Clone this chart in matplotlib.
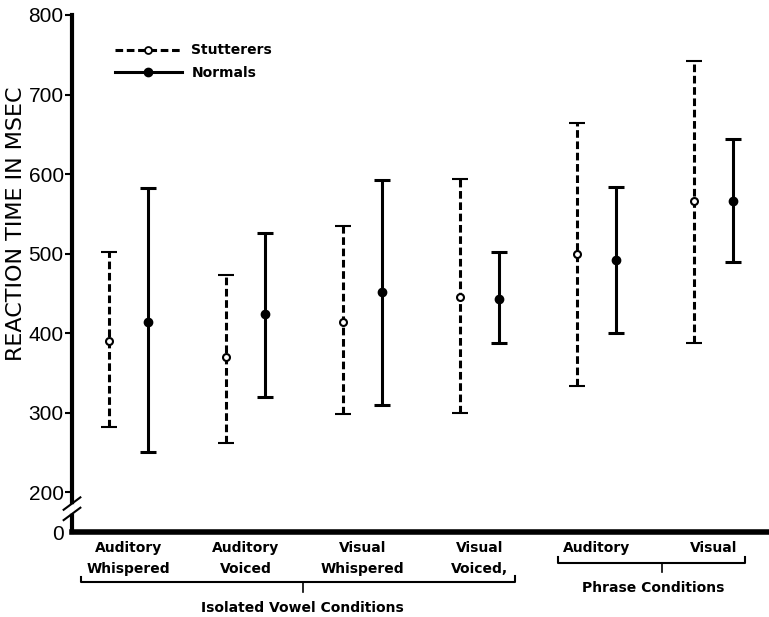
import numpy as np
import matplotlib
matplotlib.use('Agg')
import matplotlib.pyplot as plt
import matplotlib.transforms as mtransforms
from matplotlib.lines import Line2D

# Conditions along the x axis
conditions = ['Auditory\nWhispered', 'Auditory\nVoiced', 'Visual\nWhispered',
              'Visual\nVoiced,', 'Auditory', 'Visual']

# Reaction times in msec
stut_mean = [390, 370, 414, 445, 500, 566]
stut_low = [282, 262, 298, 299, 334, 387]
stut_high = [502, 473, 535, 594, 664, 742]

norm_mean = [414, 424, 452, 443, 492, 566]
norm_low = [251, 320, 310, 387, 400, 490]
norm_high = [582, 526, 593, 502, 584, 644]

stut_mean = np.array(stut_mean)
norm_mean = np.array(norm_mean)

fig = plt.figure(figsize=(7.69, 6.17), dpi=100)
ax = fig.add_axes([72/769, 1 - 532/617, 1 - 72/769, (532 - 15)/617])

index = np.arange(len(conditions))
offset = 0.17

# Stutterers: dashed bars, open circles
eb1 = ax.errorbar(index - offset, stut_mean,
                  yerr=[stut_mean - np.array(stut_low), np.array(stut_high) - stut_mean],
                  fmt='o', color='black', mfc='white', mec='black', ms=5, mew=1.5,
                  elinewidth=2.2, capsize=5.5, capthick=2.2, zorder=3)
eb1[2][0].set_linestyle((0, (2.5, 1.2)))

# Normals: solid bars, filled circles
ax.errorbar(index + offset, norm_mean,
            yerr=[norm_mean - np.array(norm_low), np.array(norm_high) - norm_mean],
            fmt='o', color='black', ms=6, elinewidth=2.2, capsize=5.5, capthick=2.2, zorder=3)

ax.set_xlim(-0.483, 5.474)
ax.set_ylim(150, 800)

# Axis styling
for side in ['top', 'right']:
    ax.spines[side].set_visible(False)
ax.spines['left'].set_linewidth(3)
ax.spines['bottom'].set_linewidth(4)
ax.set_xticks([])
ax.set_yticks([150, 200, 300, 400, 500, 600, 700, 800])
ax.set_yticklabels(['0', '200', '300', '400', '500', '600', '700', '800'],
                   fontname='Liberation Sans', fontsize=15)
ax.tick_params(axis='y', direction='out', length=5, width=1.5, pad=1)
ax.yaxis.get_major_ticks()[0].tick1line.set_visible(False)
ax.set_ylabel('REACTION TIME IN MSEC', fontname='DejaVu Sans', fontsize=16)
ax.yaxis.set_label_coords(-0.066, 0.596)

# Axis break marks
for yb in [0.035, 0.055]:
    ax.plot([-0.012, 0.012], [yb - 0.012, yb + 0.012], transform=ax.transAxes,
            color='black', lw=1.5, clip_on=False, zorder=5)
ax.plot([0, 0], [0.041, 0.049], transform=ax.transAxes, color='white', lw=4,
        clip_on=False, zorder=4)

# Condition labels
trans = mtransforms.blended_transform_factory(ax.transData, ax.transAxes)
for i, lab in enumerate(conditions):
    ax.text(index[i], -0.018, lab, transform=trans, ha='center', va='top',
            fontsize=10, fontweight='bold', linespacing=1.6)

# Brackets for groups
by = (532 - 582) / 517
ax.plot([-0.41, -0.41, 3.30, 3.30], [by + 0.01, by, by, by + 0.012], transform=trans,
        color='black', lw=1.5, clip_on=False)
ax.plot([1.49, 1.49], [by, by - 0.02], transform=trans, color='black', lw=1.2, clip_on=False)
ax.text(1.49, (532 - 608) / 517, 'Isolated Vowel Conditions', transform=trans,
        ha='center', va='center', fontsize=10, fontweight='bold')

py = (532 - 563) / 517
ax.plot([3.67, 3.67, 5.27, 5.27], [py + 0.012, py, py, py + 0.012], transform=trans,
        color='black', lw=1.5, clip_on=False)
ax.plot([4.56, 4.56], [py, py - 0.017], transform=trans, color='black', lw=1.2, clip_on=False)
ax.text(4.48, (532 - 588) / 517, 'Phrase Conditions', transform=trans,
        ha='center', va='center', fontsize=10, fontweight='bold')

# Legend
handles = [Line2D([], [], color='black', ls=(0, (2.5, 1.2)), lw=2.2, marker='o',
                  mfc='white', mec='black', ms=5, mew=1.3),
           Line2D([], [], color='black', lw=2.2, marker='o', ms=6)]
leg = ax.legend(handles, ['Stutterers', 'Normals'], loc='upper left',
                bbox_to_anchor=(0.0617, 0.945), frameon=False, handlelength=4.8,
                handletextpad=0.7, labelspacing=0.6, borderpad=0, borderaxespad=0,
                prop={'weight': 'bold', 'size': 10}, numpoints=1)

plt.savefig('out.png', dpi=100)
